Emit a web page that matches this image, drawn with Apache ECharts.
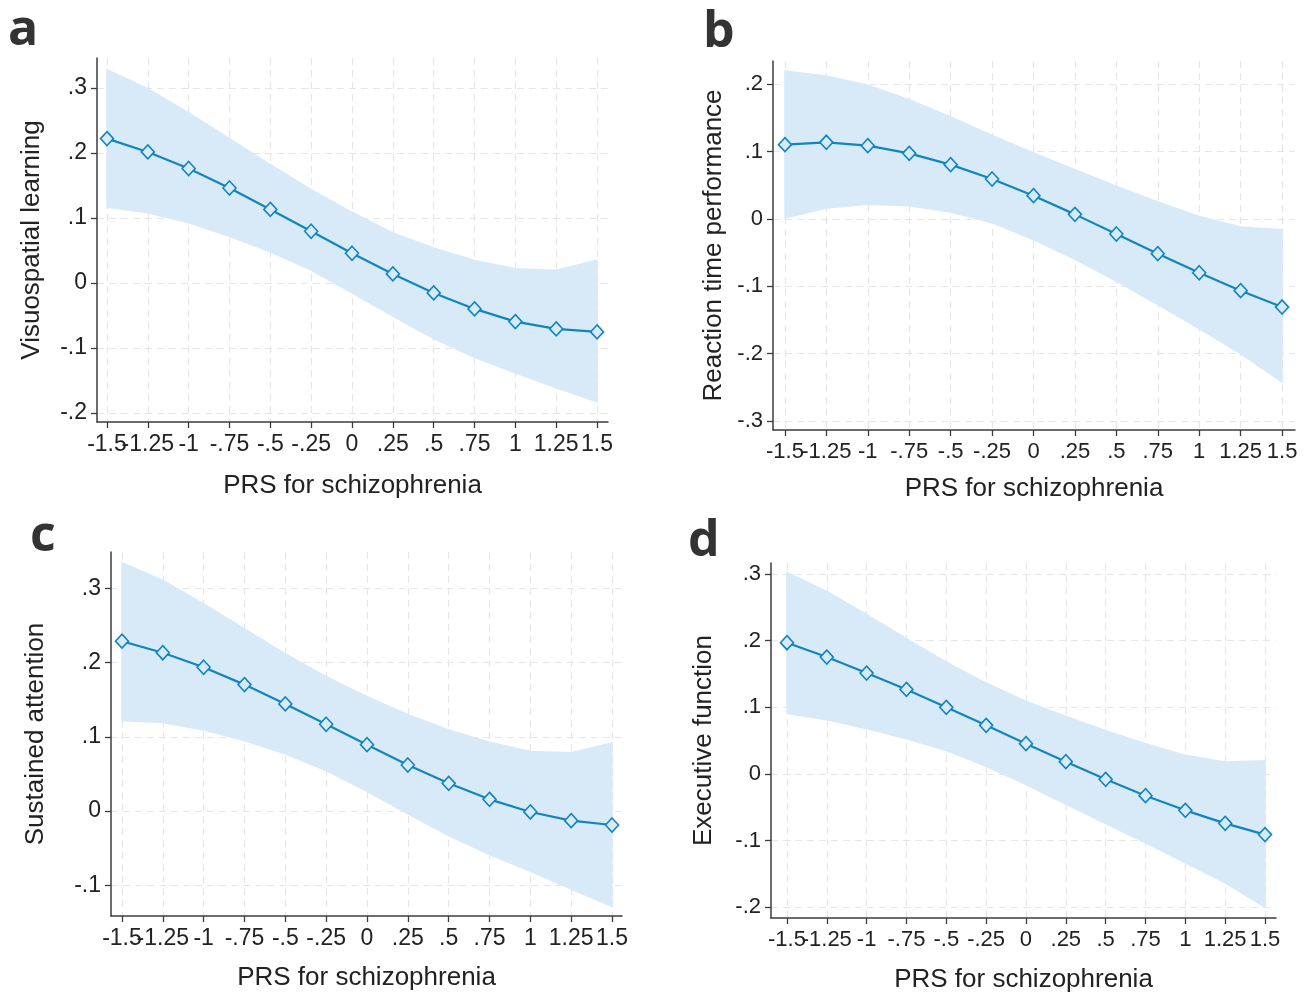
<!DOCTYPE html>
<html>
<head>
<meta charset="utf-8">
<script src="https://cdn.jsdelivr.net/npm/echarts@6/dist/echarts.min.js"></script>
<style>
html, body { margin: 0; padding: 0; background: #fff; }
#main { width: 1307px; height: 994px; }
</style>
</head>
<body>
<div id="main"></div>
<script>
// PRS for schizophrenia (x) and tick values
var prs = [-1.5, -1.25, -1, -0.75, -0.5, -0.25, 0, 0.25, 0.5, 0.75, 1, 1.25, 1.5];
var xTicks = [-1.5, -1.25, -1, -0.75, -0.5, -0.25, 0, 0.25, 0.5, 0.75, 1, 1.25, 1.5];
// labels split over two axes so that touching labels are all kept
var xLabelsMain = [-1.5, -1, -0.5, 0, 0.5, 1, 1.5];
var xLabelsMid = [-1.25, -0.75, -0.25, 0.25, 0.75, 1.25];

// a - visuospatial learning
var visuoFit = [0.222, 0.2015, 0.176, 0.146, 0.113, 0.0795, 0.0456, 0.0138, -0.0154, -0.040, -0.0595, -0.0708, -0.0754];
var visuoHi = [0.328, 0.299, 0.2615, 0.222, 0.182, 0.1436, 0.1087, 0.077, 0.0538, 0.0344, 0.022, 0.0195, 0.0349];
var visuoLo = [0.1164, 0.1077, 0.0923, 0.0718, 0.0477, 0.0195, -0.0154, -0.0513, -0.0856, -0.1144, -0.1385, -0.1615, -0.183];
var visuoTicks = [-0.2, -0.1, 0, 0.1, 0.2, 0.3];

// b - reaction time performance
var reactFit = [0.1105, 0.114, 0.109, 0.0976, 0.0808, 0.0595, 0.0347, 0.0069, -0.0223, -0.0515, -0.0798, -0.1065, -0.1308];
var reactHi = [0.22, 0.2126, 0.1987, 0.1774, 0.1516, 0.1244, 0.0981, 0.0733, 0.049, 0.0253, 0.004, -0.0119, -0.0159];
var reactLo = [0.0015, 0.0164, 0.0218, 0.0198, 0.0104, -0.0055, -0.0307, -0.06, -0.0922, -0.1274, -0.163, -0.2002, -0.2423];
var reactTicks = [-0.3, -0.2, -0.1, 0, 0.1, 0.2];

// c - sustained attention
var attnFit = [0.2288, 0.2133, 0.1937, 0.1703, 0.1443, 0.1169, 0.0894, 0.062, 0.0373, 0.0157, -0.0013, -0.013, -0.0189];
var attnHi = [0.3348, 0.3106, 0.279, 0.2454, 0.2117, 0.1811, 0.1542, 0.1299, 0.1092, 0.0926, 0.0804, 0.0786, 0.0917];
var attnLo = [0.1218, 0.1191, 0.1092, 0.0948, 0.0769, 0.0544, 0.0265, -0.004, -0.0333, -0.0589, -0.0813, -0.1052, -0.1285];
var attnTicks = [-0.1, 0, 0.1, 0.2, 0.3];

// d - executive function
var execFit = [0.1968, 0.1753, 0.1513, 0.1268, 0.0999, 0.0729, 0.0455, 0.0185, -0.008, -0.0325, -0.0545, -0.074, -0.0909];
var execHi = [0.3022, 0.2737, 0.2388, 0.2028, 0.1678, 0.1364, 0.1089, 0.0864, 0.0649, 0.0455, 0.028, 0.018, 0.02];
var execLo = [0.0909, 0.0814, 0.0679, 0.0529, 0.035, 0.0115, -0.016, -0.045, -0.0744, -0.1034, -0.1334, -0.1633, -0.1998];
var execTicks = [-0.2, -0.1, 0, 0.1, 0.2, 0.3];

var xTitle = 'PRS for schizophrenia';

var panels = [
	{ letter: 'a', lx: 8, ly: 6, name: 'Visuospatial learning', fit: visuoFit, hi: visuoHi, lo: visuoLo, ticks: visuoTicks,
	  left: 97, top: 58, width: 511, height: 364, xMin: -1.561, xMax: 1.567, yMin: -0.214, yMax: 0.346,
	  yGap: 52, xGap: 51, tickSize: 23 },
	{ letter: 'b', lx: 703, ly: 8, name: 'Reaction time performance', fit: reactFit, hi: reactHi, lo: reactLo, ticks: reactTicks,
	  left: 773, top: 61, width: 522, height: 369, xMin: -1.572, xMax: 1.578, yMin: -0.3135, yMax: 0.2348,
	  yGap: 46, xGap: 46, tickSize: 22 },
	{ letter: 'c', lx: 30, ly: 512, name: 'Sustained attention', fit: attnFit, hi: attnHi, lo: attnLo, ticks: attnTicks,
	  left: 111, top: 552, width: 511, height: 364, xMin: -1.567, xMax: 1.561, yMin: -0.1415, yMax: 0.349,
	  yGap: 62, xGap: 49, tickSize: 23 },
	{ letter: 'd', lx: 688, ly: 517, name: 'Executive function', fit: execFit, hi: execHi, lo: execLo, ticks: execTicks,
	  left: 771, top: 563, width: 505, height: 355, xMin: -1.600, xMax: 1.569, yMin: -0.2159, yMax: 0.3163,
	  yGap: 54, xGap: 49, tickSize: 22 }
];

function stataLabel(v) {
	var s = String(Math.round(v * 100) / 100);
	return s.replace(/^0\./, '.').replace(/^-0\./, '-.');
}

var lineColor = '#1185bd';
var bandColor = '#d8eaf7';
var axisColor = '#3c3c3c';
var gridColor = '#e6e6e6';
var font = '"Liberation Sans", Arial, sans-serif';

var grids = [], xAxes = [], yAxes = [], series = [], graphics = [];

panels.forEach(function (p, i) {
	grids.push({ left: p.left, top: p.top, width: p.width, height: p.height });
	xAxes.push({
		type: 'value', gridIndex: i, position: 'bottom', min: p.xMin, max: p.xMax,
		name: xTitle, nameLocation: 'middle', nameGap: p.xGap,
		nameTextStyle: { fontSize: 26, color: '#222', fontFamily: font },
		axisLine: { show: true, onZero: false, lineStyle: { color: axisColor, width: 1.5 } },
		axisTick: { show: true, length: 6, customValues: xTicks, lineStyle: { color: axisColor, width: 1.3 } },
		axisLabel: { customValues: xLabelsMain, showMinLabel: true, showMaxLabel: true,
			margin: 11, fontSize: p.tickSize, color: '#222', fontFamily: font, formatter: stataLabel },
		splitLine: { show: true, lineStyle: { color: gridColor, width: 1.2, type: [7, 5] } }
	});
	xAxes.push({
		type: 'value', gridIndex: i, position: 'bottom', offset: 0, min: p.xMin, max: p.xMax,
		axisLine: { show: false, onZero: false },
		axisTick: { show: false, customValues: xLabelsMid },
		axisLabel: { customValues: xLabelsMid, showMinLabel: true, showMaxLabel: true,
			margin: 11, fontSize: p.tickSize, color: '#222', fontFamily: font, formatter: stataLabel },
		splitLine: { show: false }
	});
	yAxes.push({
		type: 'value', gridIndex: i, min: p.yMin, max: p.yMax,
		name: p.name, nameLocation: 'middle', nameGap: p.yGap,
		nameTextStyle: { fontSize: 26, color: '#222', fontFamily: font },
		axisLine: { show: true, onZero: false, lineStyle: { color: axisColor, width: 1.5 } },
		axisTick: { show: true, length: 6, customValues: p.ticks, lineStyle: { color: axisColor, width: 1.3 } },
		axisLabel: { customValues: p.ticks, showMinLabel: true, showMaxLabel: true,
			margin: 10, fontSize: p.tickSize, color: '#222', fontFamily: font, formatter: stataLabel },
		splitLine: { show: true, lineStyle: { color: gridColor, width: 1.2, type: [7, 5] } }
	});

	var bandData = [], fitData = [];
	for (var j = 0; j < prs.length; ++j) {
		bandData.push([prs[j], p.lo[j], p.hi[j]]);
		fitData.push([prs[j], p.fit[j]]);
	}
	// confidence band: one polygon through upper values, back through lower values
	series.push({
		type: 'custom', xAxisIndex: 2 * i, yAxisIndex: i, data: bandData, silent: true, z: 2,
		encode: { x: 0, y: [1, 2] },
		renderItem: function (params, api) {
			if (params.dataIndex !== 0) return null;
			var pts = [], k;
			for (k = 0; k < bandData.length; ++k) pts.push(api.coord([bandData[k][0], bandData[k][2]]));
			for (k = bandData.length - 1; k >= 0; --k) pts.push(api.coord([bandData[k][0], bandData[k][1]]));
			return { type: 'polygon', shape: { points: pts },
				style: { fill: bandColor, stroke: bandColor, lineWidth: 1.4 } };
		}
	});
	series.push({
		type: 'line', xAxisIndex: 2 * i, yAxisIndex: i, data: fitData,
		symbol: 'diamond', symbolSize: [13, 14], showAllSymbol: true,
		lineStyle: { color: lineColor, width: 2.2 },
		itemStyle: { color: bandColor, borderColor: lineColor, borderWidth: 1.6 },
		z: 3
	});

	graphics.push({
		type: 'text', left: p.lx, top: p.ly,
		style: { text: p.letter, font: 'bold 50px "Open Sans", sans-serif', fill: '#333' }
	});
});

var myChart = echarts.init(document.getElementById('main'));
var option = {
	animation: false,
	backgroundColor: '#fff',
	grid: grids,
	xAxis: xAxes,
	yAxis: yAxes,
	series: series,
	graphic: graphics
};
myChart.setOption(option);
</script>
</body>
</html>
